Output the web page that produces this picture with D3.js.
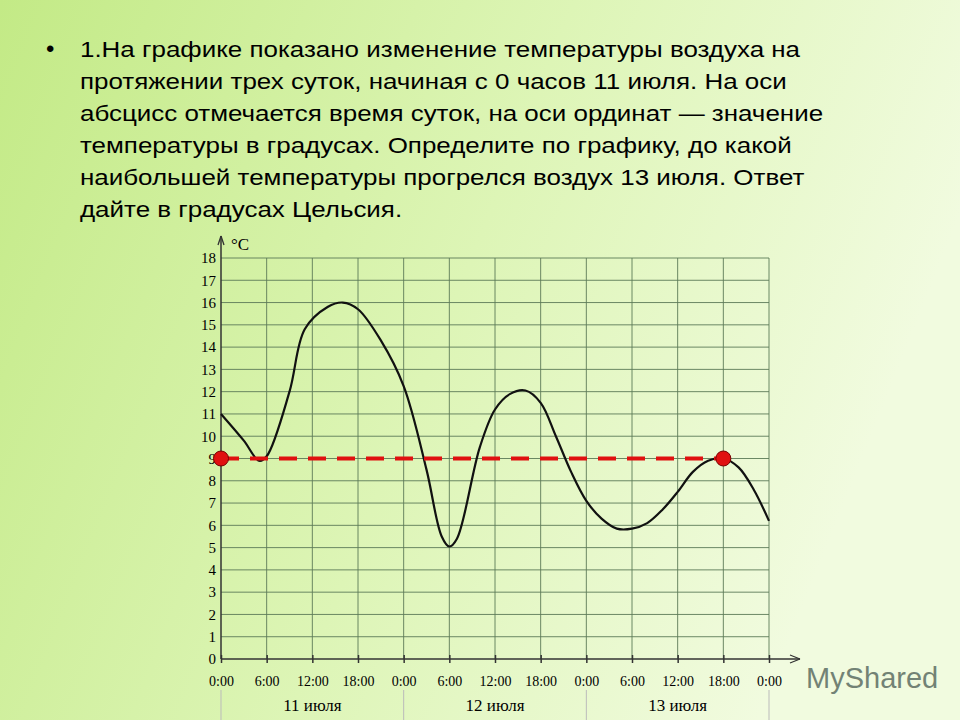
<!DOCTYPE html>
<html><head><meta charset="utf-8">
<script src="https://cdn.jsdelivr.net/npm/d3@7"></script>
<style>
body{margin:0;width:960px;height:720px;overflow:hidden;font-family:Arial,"Liberation Sans",sans-serif}
</style></head><body>
<svg id="c" width="960" height="720"></svg>
<script>
const questionLines = [
  "1.На графике показано изменение температуры воздуха на",
  "протяжении трех суток, начиная с 0 часов 11 июля. На оси",
  "абсцисс отмечается время суток, на оси ординат — значение",
  "температуры в градусах. Определите по графику, до какой",
  "наибольшей температуры прогрелся воздух 13 июля. Ответ",
  "дайте в градусах Цельсия."
];
const hours = [0,3,5,6,9,11,14,16,18,21,24,27,29,30,31,34,36,38,40,42,44,46,48,50,52,54,56,58,60,62,64,66,68,70,72];
const temps = [11,9.8,8.9,9.1,12,14.8,15.8,16,15.7,14.3,12.25,8.5,5.5,5.05,5.4,9.5,11.2,11.9,12.05,11.5,10,8.4,7.1,6.3,5.85,5.85,6.1,6.7,7.5,8.4,8.9,9.0,8.6,7.6,6.2];
const tickLabels = ["0:00","6:00","12:00","18:00","0:00","6:00","12:00","18:00","0:00","6:00","12:00","18:00","0:00"];
const days = ["11 июля","12 июля","13 июля"];
const marker = {level: 9, from: 0, to: 66};

const svg = d3.select("#c");
const defs = svg.append("defs");
const g = defs.append("linearGradient").attr("id","bg").attr("x1","0").attr("y1","0").attr("x2","1").attr("y2","0.3");
g.append("stop").attr("offset","0").attr("stop-color","#c3ea86");
g.append("stop").attr("offset","0.55").attr("stop-color","#ddf5b6");
g.append("stop").attr("offset","1").attr("stop-color","#f1fbdf");
svg.append("rect").attr("width",960).attr("height",720).attr("fill","url(#bg)");

// question text
svg.append("text").attr("x",46).attr("y",57).attr("font-size",24).text("•");
svg.selectAll("text.q").data(questionLines).join("text").attr("class","q")
  .attr("x",80).attr("y",(d,i)=>57+i*32).attr("font-size",22).attr("fill","#000")
  .attr("transform",(d,i)=>`translate(${-80*0.18},0) scale(1.18,1)`)
  .text(d=>d);

const x = d3.scaleLinear().domain([0,72]).range([221,769]);
const y = d3.scaleLinear().domain([0,18]).range([659,258]);
const serif = "'Liberation Serif','DejaVu Serif',serif";

// grid
svg.append("g").selectAll("line").data(d3.range(1,19)).join("line")
  .attr("x1",x(0)).attr("x2",x(72)).attr("y1",d=>y(d)).attr("y2",d=>y(d))
  .attr("stroke","#5c7a58").attr("stroke-width",0.9);
svg.append("g").selectAll("line").data(d3.range(6,73,6)).join("line")
  .attr("y1",y(0)).attr("y2",y(18)).attr("x1",d=>x(d)).attr("x2",d=>x(d))
  .attr("stroke","#5c7a58").attr("stroke-width",0.9);

// axes
const xa = svg.append("g").attr("transform",`translate(0,${y(0)})`)
  .call(d3.axisBottom(x).tickValues(d3.range(0,73,6)).tickSize(4).tickSizeOuter(0).tickFormat((d,i)=>tickLabels[i]));
xa.select(".domain").remove();
xa.selectAll("line").attr("y1",-4).attr("stroke","#333").attr("stroke-width",1.5);
xa.selectAll("text").attr("font-family",serif).attr("font-size",14).attr("dy","1.45em");
svg.append("line").attr("x1",x(0)).attr("x2",800).attr("y1",y(0)).attr("y2",y(0)).attr("stroke","#333").attr("stroke-width",1.5);
svg.append("path").attr("d",`M800,${y(0)} l-10,-4 M800,${y(0)} l-10,4`).attr("stroke","#333").attr("stroke-width",1.3);

const ya = svg.append("g").attr("transform",`translate(${x(0)},0)`)
  .call(d3.axisLeft(y).tickValues(d3.range(0,19)).tickSize(0));
ya.select(".domain").remove();
ya.selectAll("text").attr("font-family",serif).attr("font-size",15).attr("x",-5);
svg.append("line").attr("x1",x(0)).attr("x2",x(0)).attr("y1",y(0)).attr("y2",236).attr("stroke","#333").attr("stroke-width",1.5);
svg.append("path").attr("d",`M${x(0)},236 l-3,9 M${x(0)},236 l3,9`).attr("stroke","#333").attr("stroke-width",1.3);
svg.append("text").attr("x",231).attr("y",250).attr("font-family",serif).attr("font-size",17).text("°C");

// day labels
svg.append("g").selectAll("line").data([0,24,48,72]).join("line")
  .attr("x1",d=>x(d)).attr("x2",d=>x(d)).attr("y1",690).attr("y2",720).attr("stroke","#bbb");
svg.append("g").selectAll("text").data(days).join("text")
  .attr("x",(d,i)=>x(i*24+12)).attr("y",711).attr("text-anchor","middle")
  .attr("font-family",serif).attr("font-size",17).text(d=>d);

// curve
svg.append("path").datum(hours.map((h,i)=>[h,temps[i]]))
  .attr("d",d3.line().x(d=>x(d[0])).y(d=>y(d[1])).curve(d3.curveCatmullRom.alpha(0.5)))
  .attr("fill","none").attr("stroke","#111").attr("stroke-width",2.2);

// marker line
svg.append("line").attr("x1",x(marker.from)).attr("x2",x(marker.to)).attr("y1",y(marker.level)).attr("y2",y(marker.level))
  .attr("stroke","#e01010").attr("stroke-width",4).attr("stroke-dasharray","18,11");
svg.selectAll("circle").data([marker.from,marker.to]).join("circle")
  .attr("cx",d=>x(d)).attr("cy",y(marker.level)).attr("r",7.5)
  .attr("fill","#e01010").attr("stroke","#700").attr("stroke-width",1);

// watermark
svg.append("text").attr("x",806).attr("y",688).attr("font-size",29).attr("fill","#5d6e63").attr("opacity",0.85).text("MyShared");
</script></body></html>
